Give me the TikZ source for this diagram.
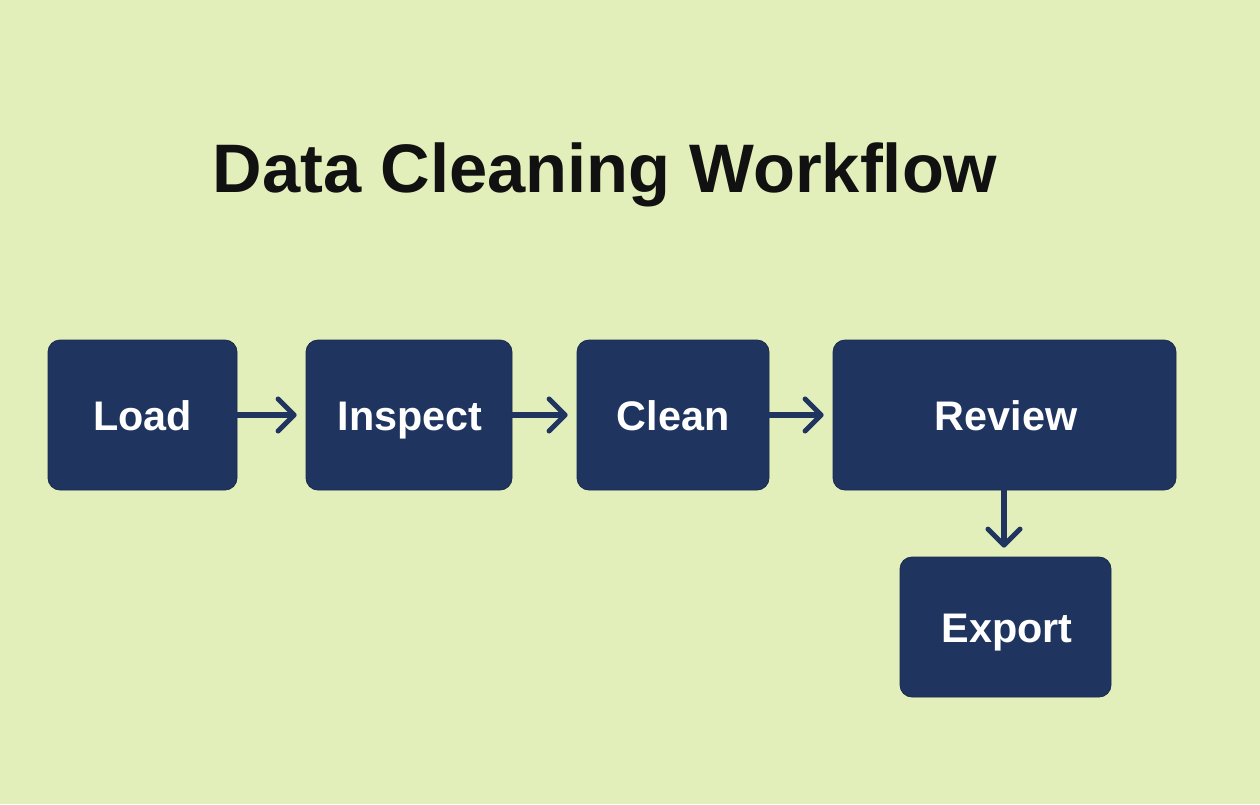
\documentclass[tikz,border=0pt]{standalone}
\usepackage{fontspec}
\setmainfont{Liberation Sans}
\usetikzlibrary{arrows.meta}
\definecolor{bg}{RGB}{227,239,187}
\definecolor{boxc}{RGB}{31,53,96}
\definecolor{titlec}{RGB}{17,17,17}
\tikzset{
  stepbox/.style={draw=boxc!80!black, line width=0.6pt, fill=boxc, rounded corners=9pt},
  steplabel/.style={text=white, font=\bfseries\fontsize{31}{37}\selectfont, inner sep=0pt, anchor=base},
  flow/.style={draw=boxc, line width=3.8pt, line cap=round, -{Straight Barb[length=12pt, width=24pt, line cap=round, line join=round]}},
}
\begin{document}
\begin{tikzpicture}[x=0.75pt, y=-0.75pt]
\fill[bg] (0,0) rectangle (1260,804);
\useasboundingbox (0,0) rectangle (1260,804);
\node[text=titlec, font=\bfseries\fontsize{51.5}{60}\selectfont, inner sep=0pt, anchor=base] (title) at (605,192) {Data Cleaning Workflow};
\path[stepbox] (48,340) rectangle (237,490);
\coordinate (loadE) at (237,415);
\node[steplabel] (load) at (142.5,430) {Load};
\path[stepbox] (306,340) rectangle (512,490);
\coordinate (inspectW) at (306,415);
\coordinate (inspectE) at (512,415);
\node[steplabel] (inspect) at (410,430) {Inspect};
\path[stepbox] (577,340) rectangle (769,490);
\coordinate (cleanW) at (577,415);
\coordinate (cleanE) at (769,415);
\node[steplabel] (clean) at (673,430) {Clean};
\path[stepbox] (833,340) rectangle (1176,490);
\coordinate (reviewW) at (833,415);
\coordinate (reviewS) at (1004,490);
\node[steplabel] (review) at (1006,430) {Review};
\path[stepbox] (900,557) rectangle (1111,697);
\coordinate (exportN) at (1004,557);
\node[steplabel] (export) at (1007,642) {Export};
\draw[flow] (loadE) -- ([xshift=-7pt]inspectW);
\draw[flow] (inspectE) -- ([xshift=-7pt]cleanW);
\draw[flow] (cleanE) -- ([xshift=-7pt]reviewW);
\draw[flow] (reviewS) -- ([yshift=7pt]exportN);
\end{tikzpicture}
\end{document}
